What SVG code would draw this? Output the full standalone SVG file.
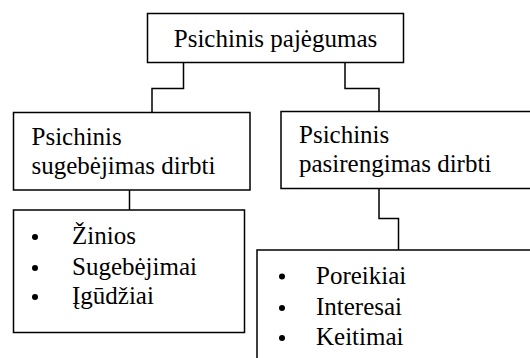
<svg xmlns="http://www.w3.org/2000/svg" width="530" height="358" viewBox="0 0 530 358">
<style>
.box{fill:#fff;stroke:#000;stroke-width:1.5}
.ln{fill:none;stroke:#000;stroke-width:1.5}
text{font-family:"Liberation Serif","Times New Roman",serif;font-size:25px;fill:#000}
.b{fill:#000}
</style>
<rect width="530" height="358" fill="#fff"/>
<g id="connectors">
<path class="ln" d="M183.5,62.5 V88.5 H152 V112.5"/>
<path class="ln" d="M345,62.5 V88.5 H379 V111.5"/>
<path class="ln" d="M129.5,190 V210"/>
<path class="ln" d="M379,188.5 V218.5 H398.5 V250"/>
</g>
<g id="n_top">
<rect class="box" x="147.5" y="13.5" width="256" height="49"/>
<text x="275.5" y="46.5" text-anchor="middle">Psichinis pajėgumas</text>
</g>
<g id="n_left">
<rect class="box" x="13.5" y="112.5" width="236.5" height="77.5"/>
<text x="31.5" y="145">Psichinis</text>
<text x="31.5" y="173.5">sugebėjimas dirbti</text>
</g>
<g id="n_right">
<rect class="box" x="281" y="111.5" width="260" height="77"/>
<text x="299" y="142.5">Psichinis</text>
<text x="299" y="171.5">pasirengimas dirbti</text>
</g>
<g id="n_left_list">
<rect class="box" x="13.5" y="210" width="231" height="122.5"/>
<circle class="b" cx="35" cy="237" r="3"/>
<circle class="b" cx="35" cy="268" r="3"/>
<circle class="b" cx="35" cy="297" r="3"/>
<text x="72" y="244">Žinios</text>
<text x="72" y="275">Sugebėjimai</text>
<text x="72" y="304">Įgūdžiai</text>
</g>
<g id="n_right_list">
<rect class="box" x="257" y="250" width="280" height="120"/>
<circle class="b" cx="282" cy="276.5" r="3"/>
<circle class="b" cx="282" cy="308" r="3"/>
<circle class="b" cx="282" cy="338" r="3"/>
<text x="316" y="283.5">Poreikiai</text>
<text x="316" y="315">Interesai</text>
<text x="316" y="345">Keitimai</text>
</g>
</svg>
